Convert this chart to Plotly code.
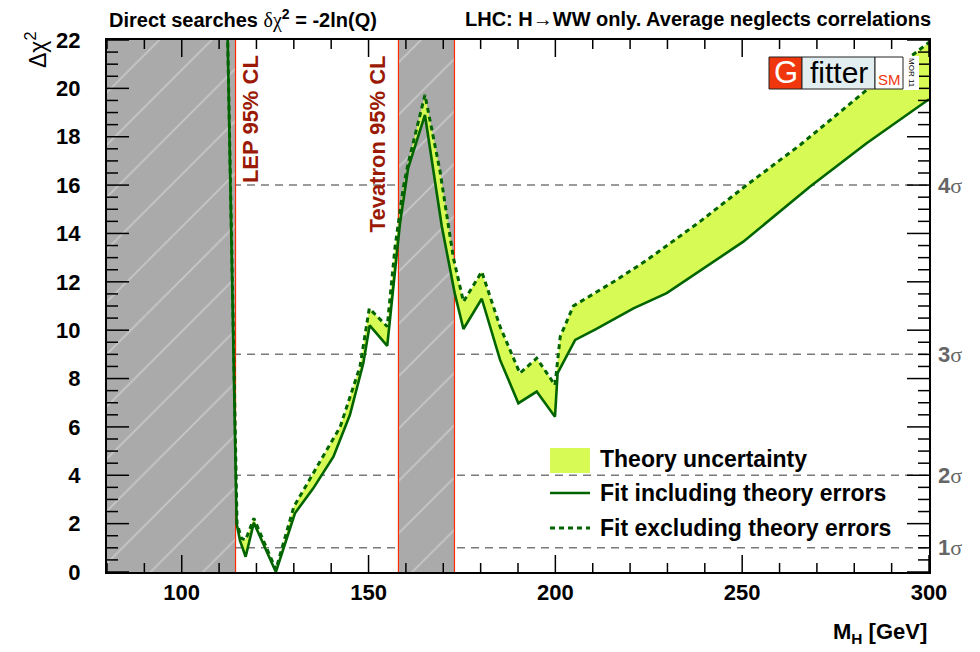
import plotly.graph_objects as go

# ---------------- data ----------------
mh_incl = [112.0, 114.7, 115.6, 117.1, 119.3, 125.2, 130.3, 135.2, 140.6, 145.0,
           148.6, 150.3, 155.0, 158.4, 160.6, 165.1, 169.6, 173.1, 175.4, 180.3,
           185.2, 190.1, 195.0, 199.9, 200.6, 205.3, 211.0, 220.9, 229.8, 250.3,
           268.2, 283.3, 300.0]
chi2_incl = [24.5, 2.0, 1.3, 0.63, 2.04, 0.0, 2.43, 3.46, 4.77, 6.49,
             8.63, 10.2, 9.35, 14.4, 16.7, 18.9, 14.3, 11.5, 10.05, 11.3,
             8.77, 6.98, 7.46, 6.42, 8.22, 9.6, 10.05, 10.9, 11.53, 13.66,
             15.94, 17.73, 19.55]

mh_excl = [112.0, 114.8, 116.0, 117.1, 119.3, 125.2, 130.0, 135.2, 142.4, 147.7,
           150.2, 155.0, 157.1, 159.3, 160.6, 165.1, 169.1, 172.7, 175.4, 180.3,
           185.2, 190.5, 195.0, 199.9, 201.3, 204.8, 207.5, 216.4, 224.5, 238.7,
           251.2, 265.5, 283.3, 300.0]
chi2_excl = [24.5, 2.0, 1.39, 1.32, 2.22, 0.1, 2.7, 4.08, 6.0, 8.49,
             10.9, 10.15, 13.45, 15.9, 16.9, 19.73, 16.6, 13.0, 11.18, 12.42,
             10.15, 8.22, 8.84, 7.73, 9.73, 11.0, 11.25, 12.08, 12.9, 14.49,
             16.0, 17.66, 19.93, 21.9]

lep_limit = 114.4
tev_limits = [158.0, 173.0]
x_range = [80, 300]
y_range = [0, 22]
x_ticks = [100, 150, 200, 250, 300]
y_ticks = [0, 2, 4, 6, 8, 10, 12, 14, 16, 18, 20, 22]
sigma_levels = [1, 4, 9, 16]
sigma_labels = ["1", "2", "3", "4"]

# ---------------- layout helpers ----------------
W, H = 980, 652
L, R, T, B = 107, 929, 40, 572


def px(p):
    return (p - L) / (R - L)


def py(p):
    return (B - p) / (B - T)


GREEN = "#006400"
YELLOW = "#d8fa55"
GRAY = "#aaaaaa"
REDLINE = "#ff2a00"
DARKRED = "#9a1a05"
SANS = "Liberation Sans, Arial, Helvetica, sans-serif"
SERIF = "Liberation Serif, Times New Roman, serif"

fig = go.Figure()

# excluded bands (grey with white hatching)
for a, b in [(x_range[0], lep_limit), (tev_limits[0], tev_limits[1])]:
    fig.add_trace(go.Scatter(
        x=[a, b, b, a, a],
        y=[y_range[0], y_range[0], y_range[1], y_range[1], y_range[0]],
        mode="lines", fill="toself", fillcolor=GRAY,
        fillpattern=dict(shape="/", bgcolor=GRAY, fgcolor="#e4e4e4",
                         size=37, solidity=0.045),
        line=dict(width=0), hoverinfo="skip", showlegend=False))

# red limit lines
for xv in [lep_limit] + tev_limits:
    fig.add_trace(go.Scatter(x=[xv, xv], y=y_range, mode="lines",
                             line=dict(color=REDLINE, width=1.2),
                             hoverinfo="skip", showlegend=False))

# theory uncertainty band
fig.add_trace(go.Scatter(
    x=mh_incl + mh_excl[::-1], y=chi2_incl + chi2_excl[::-1],
    mode="lines", fill="toself", fillcolor=YELLOW, line=dict(width=0),
    hoverinfo="skip", showlegend=False))

# curves
fig.add_trace(go.Scatter(x=mh_incl, y=chi2_incl, mode="lines",
                         line=dict(color=GREEN, width=2.6),
                         name="Fit including theory errors", showlegend=False))
fig.add_trace(go.Scatter(x=mh_excl, y=chi2_excl, mode="lines",
                         line=dict(color=GREEN, width=3, dash="5px,4px"),
                         name="Fit excluding theory errors", showlegend=False))

# inward tick marks on all four sides, derived from the tick lists
x_step = x_ticks[1] - x_ticks[0]
y_step = y_ticks[1] - y_ticks[0]
x_minor_step = x_step / 5
y_minor_step = y_step / 4
x_minor = [x_range[0] + k * x_minor_step
           for k in range(int(round((x_range[1] - x_range[0]) / x_minor_step)) + 1)]
x_minor = [v for v in x_minor if v not in x_ticks]
y_minor = [y_range[0] + k * y_minor_step
           for k in range(int(round((y_range[1] - y_range[0]) / y_minor_step)) + 1)]
y_minor = [v for v in y_minor if v not in y_ticks]

tx, ty = [], []
for vals, ln in [(x_ticks, 17), (x_minor, 9)]:
    d = ln / (B - T) * (y_range[1] - y_range[0])
    for v in vals:
        tx += [v, v, None, v, v, None]
        ty += [y_range[0], y_range[0] + d, None, y_range[1] - d, y_range[1], None]
for vals, ln in [(y_ticks, 22), (y_minor, 11)]:
    d = ln / (R - L) * (x_range[1] - x_range[0])
    for v in vals:
        tx += [x_range[0], x_range[0] + d, None, x_range[1] - d, x_range[1], None]
        ty += [v, v, None, v, v, None]
fig.add_trace(go.Scatter(x=tx, y=ty, mode="lines", connectgaps=False,
                         line=dict(color="black", width=1.5),
                         hoverinfo="skip", showlegend=False))

shapes = []
# sigma reference lines
for lv in sigma_levels:
    shapes.append(dict(type="line", xref="paper", x0=0, x1=1, yref="y", y0=lv, y1=lv,
                       line=dict(color="#7a7a7a", width=1.5, dash="8px,6px"),
                       layer="below"))

# legend
shapes.append(dict(type="rect", xref="paper", yref="paper",
                   x0=px(550), x1=px(590), y0=py(473), y1=py(448),
                   fillcolor=YELLOW, line=dict(width=0), layer="above"))
shapes.append(dict(type="line", xref="paper", yref="paper",
                   x0=px(550), x1=px(590), y0=py(493), y1=py(493),
                   line=dict(color=GREEN, width=2.6), layer="above"))
shapes.append(dict(type="line", xref="paper", yref="paper",
                   x0=px(550), x1=px(590), y0=py(528), y1=py(528),
                   line=dict(color=GREEN, width=3, dash="5px,4px"), layer="above"))

# Gfitter logo boxes
shapes.append(dict(type="rect", xref="paper", yref="paper",
                   x0=px(903), x1=px(919), y0=py(90), y1=py(56),
                   fillcolor="white", line=dict(width=0), layer="above"))
for x0, x1, col in [(769, 802, "#f0360c"), (802, 875, "#e2eef0"), (875, 903, "white")]:
    shapes.append(dict(type="rect", xref="paper", yref="paper",
                       x0=px(x0), x1=px(x1), y0=py(89), y1=py(57),
                       fillcolor=col, line=dict(color="#222222", width=1), layer="above"))

ann = []
# top texts
ann.append(dict(xref="paper", yref="paper", x=px(107), y=py(19), xanchor="left",
                yanchor="middle", showarrow=False,
                text="<b>Direct searches </b><span style='font-family:" + SERIF + "'>δχ</span>"
                     "<b><sup>2</sup> = -2ln(Q)</b>",
                font=dict(family=SANS, size=20, color="black")))
ann.append(dict(xref="paper", yref="paper", x=px(933), y=py(19), xanchor="right",
                yanchor="middle", showarrow=False,
                text="<b>LHC: H→WW only. Average neglects correlations</b>",
                font=dict(family=SANS, size=20, color="black")))
# band labels
ann.append(dict(xref="x", yref="paper", x=118.3, y=py(53), xanchor="center",
                yanchor="top", showarrow=False, textangle=-90,
                text="<b>LEP 95% CL</b>", font=dict(family=SANS, size=22, color=DARKRED)))
ann.append(dict(xref="x", yref="paper", x=152.5, y=py(53), xanchor="center",
                yanchor="top", showarrow=False, textangle=-90,
                text="<b>Tevatron 95% CL</b>", font=dict(family=SANS, size=22, color=DARKRED)))
# axis titles
ann.append(dict(xref="paper", yref="paper", x=px(36), y=py(30), xanchor="center",
                yanchor="top", showarrow=False, textangle=-90,
                text="Δχ<sup>2</sup>", font=dict(family=SANS, size=23, color="black")))
ann.append(dict(xref="paper", yref="paper", x=px(929), y=py(633), xanchor="right",
                yanchor="middle", showarrow=False,
                text="<b>M<sub>H</sub> [GeV]</b>", font=dict(family=SANS, size=22, color="black")))
# sigma labels
for lv, lab in zip(sigma_levels, sigma_labels):
    ann.append(dict(xref="paper", yref="y", x=px(936), y=lv, xanchor="left",
                    yanchor="middle", showarrow=False,
                    text="<b>" + lab + "</b><span style='font-family:" + SERIF + "'>σ</span>",
                    font=dict(family=SANS, size=22, color="#666666")))
# legend texts
for yy, txt in [(459, "Theory uncertainty"), (493, "Fit including theory errors"),
                (528, "Fit excluding theory errors")]:
    ann.append(dict(xref="paper", yref="paper", x=px(598), y=py(yy), xanchor="left",
                    yanchor="middle", showarrow=False, text="<b>" + txt + "</b>",
                    font=dict(family=SANS, size=23, color="black")))
# logo texts
ann.append(dict(xref="paper", yref="paper", x=px(785.5), y=py(73), xanchor="center",
                yanchor="middle", showarrow=False, text="G",
                font=dict(family=SANS, size=31, color="white")))
ann.append(dict(xref="paper", yref="paper", x=px(838.5), y=py(72), xanchor="center",
                yanchor="middle", showarrow=False, text="fitter",
                font=dict(family=SANS, size=30, color="black")))
ann.append(dict(xref="paper", yref="paper", x=px(889), y=py(79), xanchor="center",
                yanchor="middle", showarrow=False, text="SM",
                font=dict(family=SANS, size=15, color="#f0360c")))
ann.append(dict(xref="paper", yref="paper", x=px(911), y=py(73), xanchor="center",
                yanchor="middle", showarrow=False, text="MOR 11", textangle=90,
                font=dict(family=SANS, size=8, color="black")))

tfont = dict(family=SANS, size=22, color="black", weight="bold")
base = dict(showgrid=False, zeroline=False, showline=True, linecolor="black",
            linewidth=2, ticks="", tickmode="linear", tick0=0, mirror=True)

fig.update_layout(
    width=W, height=H,
    margin=dict(l=L, r=W - R, t=T, b=H - B),
    paper_bgcolor="white", plot_bgcolor="white",
    showlegend=False,
    shapes=shapes, annotations=ann,
    xaxis=dict(range=x_range, dtick=x_step, tickfont=tfont, **base),
    yaxis=dict(range=y_range, dtick=y_step, tickfont=tfont,
               ticklabelstandoff=20, **base),
)

fig.write_html("out.html")
